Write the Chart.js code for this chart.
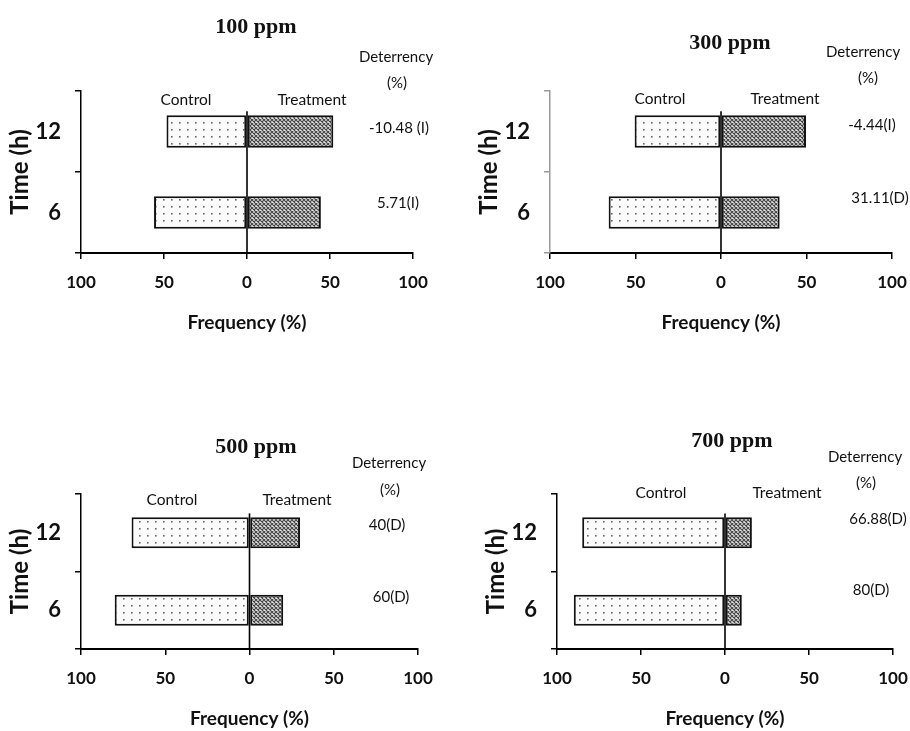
<!DOCTYPE html>
<html>
<head>
<meta charset="utf-8">
<script src="https://cdn.jsdelivr.net/npm/chart.js@4.4.0/dist/chart.umd.min.js"></script>
<style>
html, body { margin: 0; padding: 0; background: #fff; }
#wrap { position: relative; width: 910px; height: 731px; }
.panel { position: absolute; left: 0; top: 0; width: 910px; height: 731px; }
</style>
</head>
<body>
<div id="wrap">
  <div class="panel"><canvas id="c0"></canvas></div>
  <div class="panel"><canvas id="c1"></canvas></div>
  <div class="panel"><canvas id="c2"></canvas></div>
  <div class="panel"><canvas id="c3"></canvas></div>
</div>
<script>
// Data
const times = ['12', '6'];
const doses = ['100 ppm', '300 ppm', '500 ppm', '700 ppm'];
const xTicks = [-100, -50, 0, 50, 100];

const control100 = [48.5, 56];
const treatment100 = [52, 44.5];
const deter100 = ['-10.48 (I)', '5.71(I)'];

const control300 = [50.5, 65.7];
const treatment300 = [49.7, 34.3];
const deter300 = ['-4.44(I)', '31.11(D)'];

const control500 = [70, 80];
const treatment500 = [30, 20];
const deter500 = ['40(D)', '60(D)'];

const control700 = [85, 90];
const treatment700 = [16, 10];
const deter700 = ['66.88(D)', '80(D)'];

const SANS = 'Lato, "Open Sans", sans-serif';
const SERIF = '"Liberation Serif", "DejaVu Serif", serif';

// Page layout of each panel: plot box [left, top, right, bottom] and label spots
const layouts = [
    { box: [81, 91, 413, 253], axisColor: '#000', title: [256, 27], det: [396, 57], pct: [397, 83],
      ctrl: [186, 100], trt: [312, 100], vals: [[399, 128], [398, 203]] },
    { box: [550, 91, 892, 253], axisColor: '#9a9a9a', title: [730, 43], det: [863, 52], pct: [868, 78],
      ctrl: [660, 99], trt: [785, 99], vals: [[872, 125], [880, 198]] },
    { box: [81, 494, 418, 649], axisColor: '#000', title: [256, 447], det: [389, 463], pct: [390, 490],
      ctrl: [172, 500], trt: [297, 500], vals: [[387, 525], [391, 597]] },
    { box: [557, 494, 893, 649], axisColor: '#000', title: [732, 441], det: [865, 457], pct: [866, 483],
      ctrl: [661, 493], trt: [787, 493], vals: [[878, 519], [871, 590]] }
];

function makeDots() {
    const c = document.createElement('canvas');
    c.width = 8; c.height = 7;
    const g = c.getContext('2d');
    g.fillStyle = '#fbfbfb';
    g.fillRect(0, 0, 8, 7);
    g.fillStyle = '#666';
    g.fillRect(3, 3, 1.6, 1.6);
    return c;
}

function makeHatch() {
    const c = document.createElement('canvas');
    c.width = 4; c.height = 4;
    const g = c.getContext('2d');
    g.fillStyle = '#e2e2e2';
    g.fillRect(0, 0, 4, 4);
    g.strokeStyle = '#444';
    g.lineWidth = 1.1;
    g.beginPath();
    g.moveTo(-1, -1); g.lineTo(5, 5);
    g.moveTo(5, -1); g.lineTo(-1, 5);
    g.stroke();
    return c;
}

const panelText = {
    id: 'panelText',
    afterDraw(chart, args, opts) {
        const ctx = chart.ctx;
        ctx.save();
        ctx.fillStyle = '#111';
        ctx.textAlign = 'center';
        ctx.textBaseline = 'middle';
        opts.items.forEach(it => {
            ctx.font = it.font;
            ctx.fillText(it.text, it.x, it.y);
        });
        ctx.restore();
    }
};

const zeroLine = {
    id: 'zeroLine',
    afterDatasetsDraw(chart) {
        const x = chart.scales.x.getPixelForValue(0);
        const y = chart.scales.y;
        const band = (y.bottom - y.top) / times.length;
        const top = y.getPixelForValue(0) - band * 0.25;
        const ctx = chart.ctx;
        ctx.save();
        ctx.strokeStyle = '#000';
        ctx.lineWidth = 1.6;
        ctx.beginPath();
        ctx.moveTo(x, top);
        ctx.lineTo(x, y.bottom);
        ctx.stroke();
        ctx.restore();
    }
};

function drawPanel(idx, dose, control, treatment, deter) {
    const L = layouts[idx];
    const [left, top, right, bottom] = L.box;
    const canvas = document.getElementById('c' + idx);
    const ctx = canvas.getContext('2d');
    const dots = ctx.createPattern(makeDots(), 'repeat');
    const hatch = ctx.createPattern(makeHatch(), 'repeat');

    const label = (text, pos, font) => ({ text: text, x: pos[0], y: pos[1], font: font });
    const items = [
        label(dose, L.title, 'bold 22px ' + SERIF),
        label('Deterrency', L.det, '15px ' + SANS),
        label('(%)', L.pct, '15px ' + SANS),
        label('Control', L.ctrl, '15.5px ' + SANS),
        label('Treatment', L.trt, '15.5px ' + SANS),
        label(deter[0], L.vals[0], '15px ' + SANS),
        label(deter[1], L.vals[1], '15px ' + SANS)
    ];

    new Chart(canvas, {
        type: 'bar',
        data: {
            labels: times,
            datasets: [
                {
                    label: 'Control',
                    data: control.map(v => -v),
                    backgroundColor: dots,
                    borderColor: '#111',
                    borderWidth: 2,
                    borderSkipped: false,
                    barPercentage: 0.4,
                    categoryPercentage: 1
                },
                {
                    label: 'Treatment',
                    data: treatment,
                    backgroundColor: hatch,
                    borderColor: '#111',
                    borderWidth: 2,
                    borderSkipped: false,
                    barPercentage: 0.4,
                    categoryPercentage: 1
                }
            ]
        },
        options: {
            indexAxis: 'y',
            responsive: true,
            maintainAspectRatio: false,
            animation: false,
            layout: {
                padding: { left: left - 80, top: top, right: 910 - right, bottom: 731 - bottom - 90 }
            },
            scales: {
                x: {
                    type: 'linear',
                    min: -100,
                    max: 100,
                    stacked: true,
                    afterBuildTicks: s => { s.ticks = xTicks.map(v => ({ value: v })); },
                    afterFit: s => { s.height = 90; s.paddingLeft = 0; s.paddingRight = 0; },
                    ticks: {
                        callback: v => Math.abs(v),
                        color: '#111',
                        font: { family: SANS, size: 17, weight: 'bold' },
                        padding: 13,
                        maxRotation: 0
                    },
                    grid: { drawOnChartArea: false, tickLength: 6, color: '#000', lineWidth: 1.5 },
                    border: { color: '#000', width: 2 },
                    title: {
                        display: true,
                        text: 'Frequency (%)',
                        color: '#111',
                        font: { family: SANS, size: 19, weight: 'bold' },
                        padding: { top: 0, bottom: 9 }
                    }
                },
                y: {
                    stacked: true,
                    afterFit: s => { s.width = 80; s.paddingTop = 0; s.paddingBottom = 0; },
                    ticks: {
                        color: '#111',
                        font: { family: SANS, size: 22, weight: 'bold' },
                        padding: 14
                    },
                    grid: { drawOnChartArea: false, tickLength: 6, color: L.axisColor, lineWidth: 1.5 },
                    border: { color: L.axisColor, width: 1.5 },
                    title: {
                        display: true,
                        text: 'Time (h)',
                        color: '#111',
                        font: { family: SANS, size: 24, weight: 'bold' },
                        padding: { top: 5, bottom: 0 }
                    }
                }
            },
            plugins: {
                legend: { display: false },
                tooltip: { enabled: false },
                panelText: { items: items }
            }
        },
        plugins: [panelText, zeroLine]
    });
}

drawPanel(0, doses[0], control100, treatment100, deter100);
drawPanel(1, doses[1], control300, treatment300, deter300);
drawPanel(2, doses[2], control500, treatment500, deter500);
drawPanel(3, doses[3], control700, treatment700, deter700);
</script>
</body>
</html>
